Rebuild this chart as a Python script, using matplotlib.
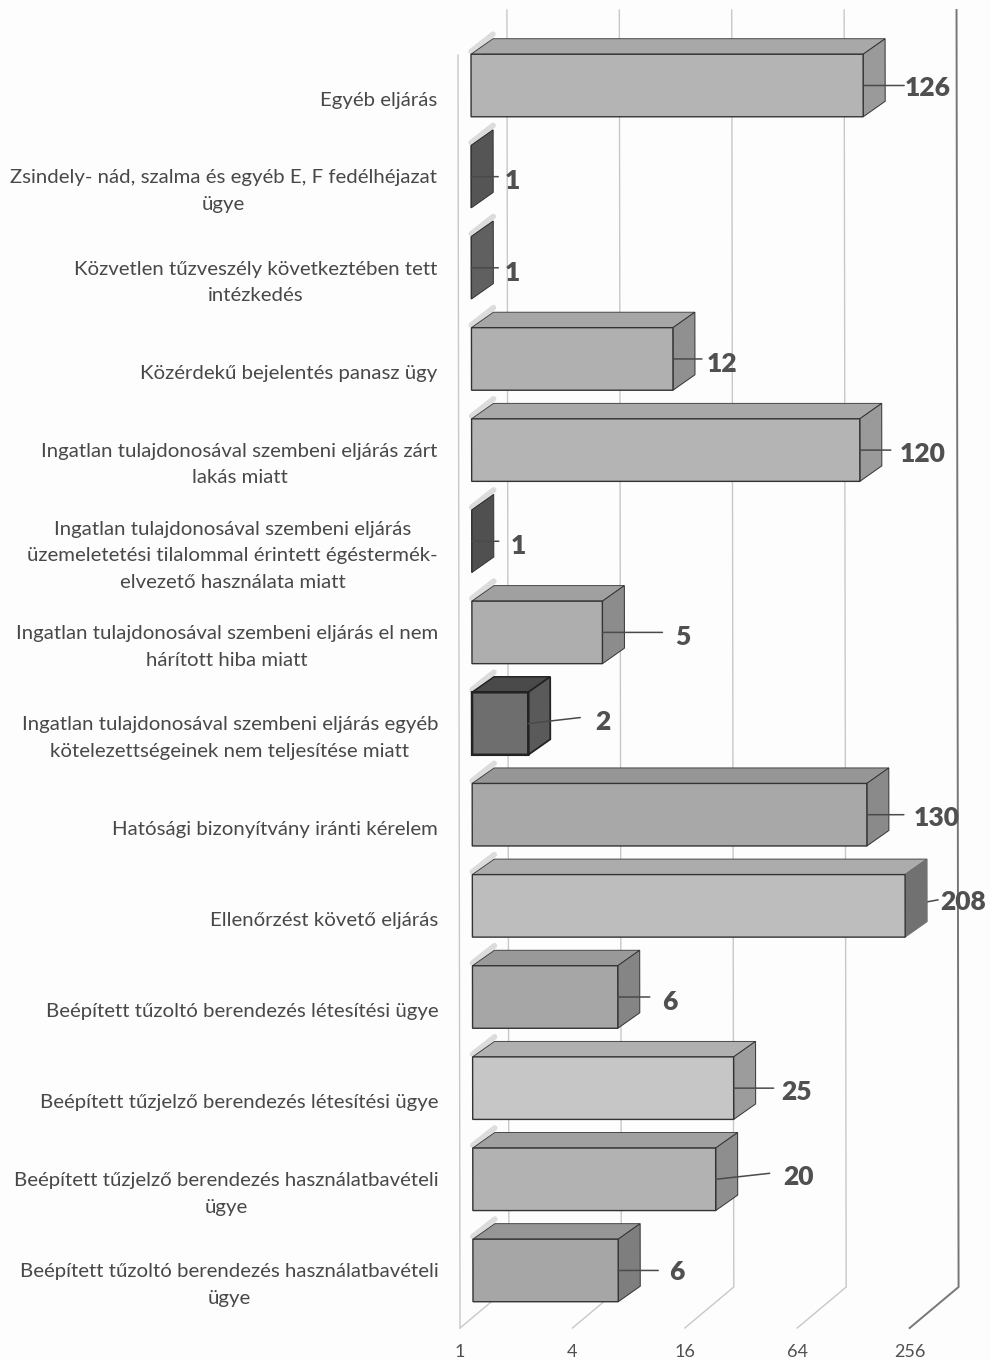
import matplotlib
matplotlib.use('Agg')
import matplotlib.pyplot as plt
from matplotlib.transforms import Affine2D

categories = [
    'Egyéb eljárás',
    'Zsindely- nád, szalma és egyéb E, F fedélhéjazat\nügye',
    'Közvetlen tűzveszély következtében tett\nintézkedés',
    'Közérdekű bejelentés panasz ügy',
    'Ingatlan tulajdonosával szembeni eljárás zárt\nlakás miatt',
    'Ingatlan tulajdonosával szembeni eljárás\nüzemeletetési tilalommal érintett égéstermék-\nelvezető használata miatt',
    'Ingatlan tulajdonosával szembeni eljárás el nem\nhárított hiba miatt',
    'Ingatlan tulajdonosával szembeni eljárás egyéb\nkötelezettségeinek nem teljesítése miatt',
    'Hatósági bizonyítvány iránti kérelem',
    'Ellenőrzést követő eljárás',
    'Beépített tűzoltó berendezés létesítési ügye',
    'Beépített tűzjelző berendezés létesítési ügye',
    'Beépített tűzjelző berendezés használatbavételi\nügye',
    'Beépített tűzoltó berendezés használatbavételi\nügye',
]
values = [126, 1, 1, 12, 120, 1, 5, 2, 130, 208, 6, 25, 20, 6]
tick_values = [1, 4, 16, 64, 256]

# face, top, side, edge for every bar
front_colors = ['#b4b4b4', '#555555', '#5e5e5e', '#b0b0b0', '#b4b4b4', '#505050', '#aeaeae',
                '#6e6e6e', '#a8a8a8', '#bdbdbd', '#a6a6a6', '#c6c6c6', '#b2b2b2', '#a6a6a6']
top_colors = ['#a8a8a8', '#444444', '#555555', '#a6a6a6', '#a8a8a8', '#444444', '#a0a0a0',
              '#4a4a4a', '#969696', '#acacac', '#999999', '#b0b0b0', '#a0a0a0', '#969696']
side_colors = ['#9a9a9a', '#555555', '#606060', '#909090', '#9a9a9a', '#505050', '#8c8c8c',
               '#5a5a5a', '#8a8a8a', '#717171', '#858585', '#9c9c9c', '#8e8e8e', '#7e7e7e']

# leader end and label centre, pixels from the bar end
leader_dx = [41, 27, 27, 29, 31, 27, 60, 52, 37, 33, 32, 40, 54, 40]
leader_dy = [0, 0, 0, 0, 0, 0, 0, -6, 0, -6, 0, 0, -6, 0]
label_dx = [65, 41, 41, 49, 63, 47, 80, 75, 70, 58, 52, 63, 83, 59]
label_dy = [3, 4, 5, 5, 4, 5, 5, -2, 3, -4, 5, 4, -2, 2]

WIDTH, HEIGHT = 990, 1361
PX_PER_DOUBLING = 56.2
ROW_PX = 91.15
FIRST_ROW_PX = 85.5
ZERO_PX = 471
BAR_HEIGHT = 0.686
BAR_DX = 2 ** (22 / PX_PER_DOUBLING)
BAR_DY = 15.5 / ROW_PX
WALL_FRONT = 2 ** (-13 / PX_PER_DOUBLING)
WALL_BACK = 2 ** (36 / PX_PER_DOUBLING)
FLOOR_FRONT = (1328 - FIRST_ROW_PX) / ROW_PX
FLOOR_BACK = (1287 - FIRST_ROW_PX) / ROW_PX
WALL_TOP_FRONT = (55 - FIRST_ROW_PX) / ROW_PX
WALL_TOP_BACK = (10 - FIRST_ROW_PX) / ROW_PX
SHEAR = 0.0016

plt.rcParams['font.family'] = ['Lato', 'DejaVu Sans']


def draw_walls(ax, tr):
    for t in tick_values:
        last = t == tick_values[-1]
        color = '#777777' if last else '#c8c8c8'
        lw = 1.4 if last else 1.0
        ax.plot([t * WALL_BACK, t * WALL_BACK, t * WALL_FRONT],
                [WALL_TOP_BACK, FLOOR_BACK, FLOOR_FRONT],
                color=color, lw=lw, transform=tr, zorder=1)
    ax.plot([WALL_FRONT, WALL_FRONT], [WALL_TOP_FRONT, FLOOR_FRONT],
            color='#c8c8c8', lw=1.0, transform=tr, zorder=1)


def draw_bar(ax, tr, i, v):
    top = i - BAR_HEIGHT / 2
    bottom = i + BAR_HEIGHT / 2
    edge = '#333333'
    lw = 1.0
    if v == 2:
        edge = '#222222'
        lw = 1.8
    # pale smear on the wall above the bar's left edge
    ax.plot([1, BAR_DX], [top - 0.03, top - BAR_DY - 0.05], color='#dcdcdc', lw=4,
            transform=tr, zorder=2, solid_capstyle='round')
    ax.fill([1, BAR_DX, v * BAR_DX, v], [top, top - BAR_DY, top - BAR_DY, top],
            facecolor=top_colors[i], edgecolor=edge, lw=lw * 0.6, transform=tr, zorder=3)
    side_edge = side_colors[i] if v == 208 else edge
    ax.fill([v, v * BAR_DX, v * BAR_DX, v],
            [top, top - BAR_DY, bottom - BAR_DY, bottom],
            facecolor=side_colors[i], edgecolor=side_edge, lw=lw * 0.7, transform=tr, zorder=3)
    ax.barh(i, v - 1, left=1, height=BAR_HEIGHT, color=front_colors[i], edgecolor=edge,
            lw=lw, transform=tr, zorder=4)


def draw_label(ax, tr, i, v):
    # the 208 leader is hidden behind the bar's side, only its stub shows
    ax.annotate('', xy=(v, i), xycoords=tr,
                xytext=(leader_dx[i] * 0.72, -leader_dy[i] * 0.72), textcoords='offset points',
                arrowprops=dict(arrowstyle='-', color='#4a4a4a', lw=1.1, shrinkA=0, shrinkB=0),
                zorder=2 if v == 208 else 5)
    ax.annotate(str(v), xy=(v, i), xycoords=tr,
                xytext=(label_dx[i] * 0.72, -label_dy[i] * 0.72), textcoords='offset points',
                ha='center', va='center', fontsize=19, fontweight='heavy', color='#505050',
                zorder=6)


def main():
    fig = plt.figure(figsize=(WIDTH / 100, HEIGHT / 100), dpi=100, facecolor='#fdfdfd')
    ax = fig.add_axes([0, 0, 1, 1])
    ax.set_xscale('log', base=2)
    ax.axis('off')

    # the scan leans slightly: x drifts about 2 px over the page height
    y0 = HEIGHT - 55
    tr = ax.transData + Affine2D.from_values(1, 0, -SHEAR, 1, SHEAR * y0, 0)

    draw_walls(ax, tr)
    for i, v in enumerate(values):
        draw_bar(ax, tr, i, v)
        draw_label(ax, tr, i, v)
        ax.text(2 ** (-34 / PX_PER_DOUBLING), i + 0.16, categories[i], transform=tr,
                ha='right', va='center', multialignment='center',
                fontsize=14.65, color='#484848', linespacing=1.68)

    for t in tick_values:
        ax.text(t * 2 ** (-13 / PX_PER_DOUBLING), (1352 - FIRST_ROW_PX) / ROW_PX, str(t),
                transform=tr, ha='center', va='center', fontsize=13, color='#505050')

    ax.set_xlim(2 ** (-ZERO_PX / PX_PER_DOUBLING), 2 ** ((WIDTH - ZERO_PX) / PX_PER_DOUBLING))
    ax.set_ylim((HEIGHT - FIRST_ROW_PX) / ROW_PX, -FIRST_ROW_PX / ROW_PX)
    fig.savefig('out.png', dpi=100, facecolor=fig.get_facecolor())


if __name__ == "__main__":
    main()
